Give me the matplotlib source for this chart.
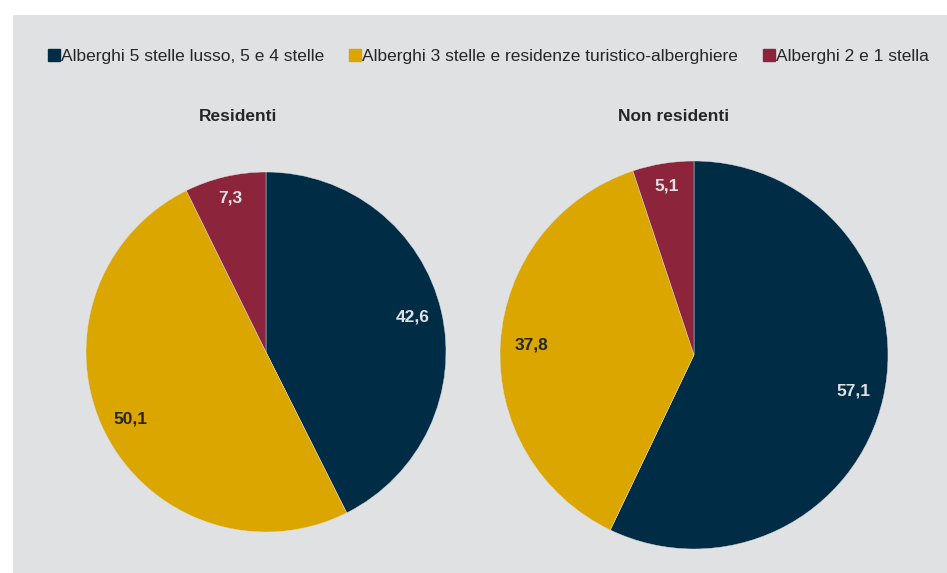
import numpy as np
import matplotlib.pyplot as plt
from matplotlib.lines import Line2D
from matplotlib.patches import Rectangle

plt.rcParams['font.family'] = ['Liberation Sans', 'DejaVu Sans']

categorie = ["Alberghi 5 stelle lusso, 5 e 4 stelle",
             "Alberghi 3 stelle e residenze turistico-alberghiere",
             "Alberghi 2 e 1 stella"]
residenti = [42.6, 50.1, 7.3]
non_residenti = [57.1, 37.8, 5.1]
titoli = ["Residenti", "Non residenti"]

colori = ["#012c45", "#dca600", "#8c253b"]
col_testo = ["#e0e1e3", "#262626", "#e0e1e3"]
sfondo = "#e0e1e3"

W, H = 947, 573
fig = plt.figure(figsize=(W / 100, H / 100), dpi=100)
fig.patch.set_facecolor("white")
fig.add_artist(Rectangle((13 / W, 0), 1 - 13 / W, 1 - 15 / H, transform=fig.transFigure,
                         facecolor=sfondo, edgecolor="none", zorder=-10))

# pie boxes in pixels: (center x, center y from top, radius)
boxes = [(266, 352, 180), (694, 355, 194)]
title_x = [238, 674]

for dati, (cx, cy, r), tit, tx in zip([residenti, non_residenti], boxes, titoli, title_x):
    ax = fig.add_axes([(cx - r) / W, (H - cy - r) / H, 2 * r / W, 2 * r / H])
    wedges, _ = ax.pie(dati, colors=colori, startangle=90, counterclock=False, radius=1,
                       wedgeprops=dict(linewidth=0.3, edgecolor=sfondo))
    ax.set_xlim(-1, 1)
    ax.set_ylim(-1, 1)
    ax.set_aspect("equal")
    ax.axis("off")
    for w, v, c in zip(wedges, dati, col_testo):
        a = np.deg2rad((w.theta1 + w.theta2) / 2)
        d = 0.84 if v > 10 else 0.88
        ax.text(d * np.cos(a), d * np.sin(a), f"{v:.1f}".replace(".", ","),
                ha="center", va="center", fontsize=12.5, fontweight="bold", color=c)
    fig.text(tx / W, 1 - 116 / H, tit, ha="center", va="center", fontsize=12.5,
             fontweight="bold", color="#262626")

handles = [Line2D([], [], marker="s", linestyle="none", markersize=8, color=c) for c in colori]
fig.legend(handles, categorie, loc="center", bbox_to_anchor=(489 / W, 1 - 56 / H), ncol=3,
           frameon=False, fontsize=12.5, handlelength=0.6, handletextpad=0.1,
           columnspacing=1.5, labelcolor="#262626")

fig.savefig("out.png", dpi=100, facecolor=fig.get_facecolor())
